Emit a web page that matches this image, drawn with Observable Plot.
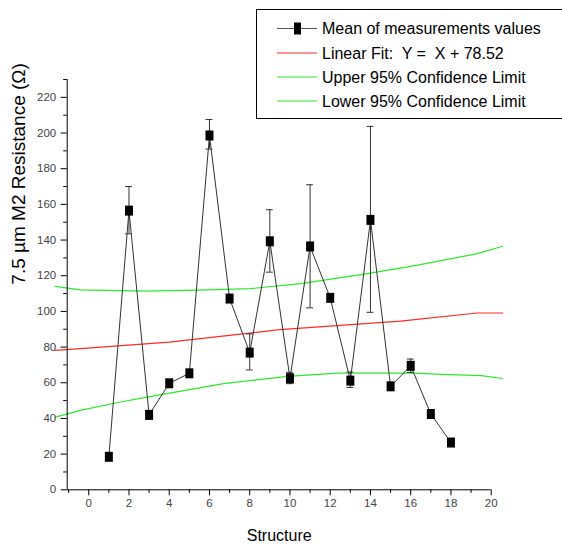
<!DOCTYPE html>
<html><head><meta charset="utf-8">
<script src="https://cdn.jsdelivr.net/npm/d3@7"></script>
<script src="https://cdn.jsdelivr.net/npm/@observablehq/plot@0.6"></script>
<style>
body{margin:0;background:#fff;}
#chart svg{font-family:"Liberation Sans", Arial, sans-serif; display:block;}
</style>
</head><body><div id="chart"></div>
<script>
// ---- data ----
const structure = [1, 2, 3, 4, 5, 6, 7, 8, 9, 10, 11, 12, 13, 14, 15, 16, 17, 18];
const meanValue = [18.5, 156.5, 42, 59.7, 65.3, 198.6, 107.2, 76.9, 139.3, 62.5, 136.4, 107.6, 61.2, 151.3, 58, 69.5, 42.5, 26.5];
const errLow  = [null, 143.5, null, null, null, 191, null, 67.2, 122, 59.5, 102, null, 57.4, 99.5, null, 65.8, null, null];
const errHigh = [null, 170, null, null, null, 207.6, null, 87.4, 157, 65.8, 171, null, 66, 203.7, null, 73.3, null, null];

const fitX = [-1.66, -0.41, 4, 9.5, 15.5, 19.3, 20.57];
const fitY = [78.2, 79.1, 82.8, 89.8, 94.6, 99.1, 99.1];
const upperX = [-1.66, -0.41, 2.9, 5.4, 8.04, 10.55, 13.85, 16.34, 19.32, 20.57];
const upperY = [114, 112.1, 111.4, 111.9, 112.8, 115.6, 121.2, 125.9, 132.4, 136.5];
const lowerX = [-1.66, -0.41, 1.58, 2.9, 6.7, 9.87, 12.36, 16.2, 17.5, 19.5, 20.57];
const lowerY = [40.7, 44.5, 49.2, 52, 59.5, 63.6, 65.4, 65.4, 64.7, 64, 62.4];

const xDomain = [-1.07, 20];
const yDomain = [0, 230];
const xMajorTicks = [0, 2, 4, 6, 8, 10, 12, 14, 16, 18, 20];
const xMinorTicks = [-1, 1, 3, 5, 7, 9, 11, 13, 15, 17, 19];
const yMajorTicks = [0, 20, 40, 60, 80, 100, 120, 140, 160, 180, 200, 220];
const yMinorTicks = [10, 30, 50, 70, 90, 110, 130, 150, 170, 190, 210, 230];

const xTitle = "Structure";
const yTitle = "7.5 \u00B5m M2 Resistance (\u03A9)";
const legendLabels = [
  "Mean of measurements values",
  "Linear Fit:  Y =  X + 78.52",
  "Upper 95% Confidence Limit",
  "Lower 95% Confidence Limit"
];

// ---- tables ----
const points = structure.map((s, i) => ({x: s, y: meanValue[i]}));
const errors = structure.map((s, i) => ({x: s, lo: errLow[i], hi: errHigh[i]})).filter(d => d.lo != null);
const fit = fitX.map((x, i) => ({x, y: fitY[i]}));
const upper = upperX.map((x, i) => ({x, y: upperY[i]}));
const lower = lowerX.map((x, i) => ({x, y: lowerY[i]}));

const RED = "#ff2a2a", GREEN = "#2fe82f", LINE = "#333";
const rectSymbol = {draw(ctx) { ctx.rect(-4, -5, 8, 10); }};
const capHalf = 0.17;

const chart = Plot.plot({
  width: 562, height: 550,
  marginLeft: 66.7, marginRight: 71.3, marginTop: 79, marginBottom: 60.7,
  x: {domain: xDomain},
  y: {domain: yDomain},
  style: {fontFamily: "'Liberation Sans', Arial, sans-serif", background: "white", color: "black"},
  marks: [
    Plot.line(lower, {x: "x", y: "y", stroke: GREEN, strokeWidth: 1.2}),
    Plot.line(upper, {x: "x", y: "y", stroke: GREEN, strokeWidth: 1.2}),
    Plot.line(fit, {x: "x", y: "y", stroke: RED, strokeWidth: 1.2}),
    Plot.ruleX(errors, {x: "x", y1: "lo", y2: "hi", stroke: LINE, strokeWidth: 1}),
    Plot.ruleY(errors, {y: "lo", x1: d => d.x - capHalf, x2: d => d.x + capHalf, stroke: LINE}),
    Plot.ruleY(errors, {y: "hi", x1: d => d.x - capHalf, x2: d => d.x + capHalf, stroke: LINE}),
    Plot.line(points, {x: "x", y: "y", stroke: LINE, strokeWidth: 1}),
    Plot.dot(points, {x: "x", y: "y", symbol: rectSymbol, fill: "black", stroke: "none"}),
    Plot.ruleX([xDomain[0]], {stroke: "black"}),
    Plot.ruleY([yDomain[0]], {stroke: "black"}),
    Plot.axisX(xMajorTicks, {tickSize: 6, tickPadding: 3, fontSize: 11.5, fill: "#444", stroke: "black", label: null}),
    Plot.axisX(xMinorTicks, {tickSize: 3.5, tickFormat: () => "", stroke: "black", label: null}),
    Plot.axisY(yMajorTicks, {tickSize: 6, tickPadding: 5, fontSize: 11.5, fill: "#444", stroke: "black", label: null}),
    Plot.axisY(yMinorTicks, {tickSize: 3.5, tickFormat: () => "", stroke: "black", label: null}),
    Plot.text([yTitle], {frameAnchor: "left", rotate: -90, dx: -48, fontSize: 19, fill: "black"}),
    Plot.text([xTitle], {frameAnchor: "bottom", dy: 51, fontSize: 16, fill: "black"})
  ]
});

// ---- legend ----
const svg = d3.select(chart);
const lg = svg.append("g").attr("class", "legend").attr("text-anchor", "start");
lg.append("rect").attr("x", 256.5).attr("y", 9.5).attr("width", 320).attr("height", 109)
  .attr("fill", "white").attr("stroke", "black").attr("stroke-width", 1);
const rowY = [28.5, 53, 77, 101];
const rowColor = ["#555", RED, GREEN, GREEN];
legendLabels.forEach((label, i) => {
  lg.append("line").attr("x1", 277).attr("x2", 317).attr("y1", rowY[i]).attr("y2", rowY[i])
    .attr("stroke", rowColor[i]).attr("stroke-width", 1.2);
  if (i === 0) {
    lg.append("rect").attr("x", 294).attr("y", rowY[i] - 6).attr("width", 7).attr("height", 12).attr("fill", "black");
  }
  lg.append("text").attr("x", 322).attr("y", rowY[i]).attr("dy", "0.36em")
    .attr("text-anchor", "start")
    .attr("font-size", 16).attr("fill", "black").style("white-space", "pre")
    .attr("xml:space", "preserve").text(label);
});

document.getElementById("chart").appendChild(chart);
</script>
</body></html>
